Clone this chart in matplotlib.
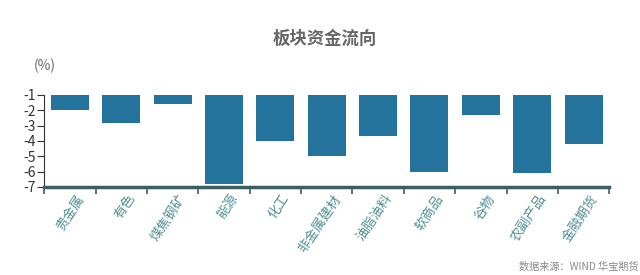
import numpy as np
import matplotlib
matplotlib.use('Agg')
import matplotlib.pyplot as plt

plt.rcParams['font.family'] = ['Noto Sans CJK SC', 'DejaVu Sans']

sectors = ['贵金属', '有色', '煤焦钢矿', '能源', '化工', '非金属建材',
           '油脂油料', '软商品', '谷物', '农副产品', '金融期货']
flow = [-2.0, -2.8, -1.6, -6.8, -4.0, -5.0, -3.7, -6.0, -2.3, -6.1, -4.2]
yticks = [-1, -2, -3, -4, -5, -6, -7]

fig = plt.figure(figsize=(6.4, 2.75), dpi=100)
ax = fig.add_axes([0.069, 0.32, 0.883, 0.335])

x = np.arange(len(sectors))
heights = [v - (-1) for v in flow]
ax.bar(x, heights, bottom=-1, width=0.74, color='#23739c')

ax.set_xlim(-0.5, len(sectors) - 0.5)
ax.set_ylim(-7, -1)
ax.set_yticks(yticks)
ax.set_yticklabels([str(t) for t in yticks], fontsize=10, color='#333333')
ax.tick_params(axis='y', length=5, width=0.8, pad=1, color='#333333')

# ticks at category boundaries on the x axis
ax.set_xticks(np.arange(len(sectors) + 1) - 0.5)
ax.set_xticklabels([])
ax.tick_params(axis='x', length=5, width=1.2, color='#3b5d63')
for xi, name in zip(x, sectors):
    ax.text(xi + 0.12, -7.35, name, rotation=56, ha='right', va='top',
            rotation_mode='anchor', fontsize=9.5, color='#4f8f92')

for s in ['top', 'right']:
    ax.spines[s].set_visible(False)
ax.spines['left'].set_color('#333333')
ax.spines['left'].set_linewidth(0.8)
ax.spines['bottom'].set_color('#3b5d63')
ax.spines['bottom'].set_linewidth(2.5)

fig.text(0.508, 0.86, '板块资金流向', ha='center', va='center', fontsize=12.5,
         fontweight='bold', color='#666666')
fig.text(0.053, 0.76, '(%)', ha='left', va='center', fontsize=10, color='#666666')
fig.text(0.997, 0.01, '数据来源：WIND 华宝期货', ha='right', va='bottom',
         fontsize=7.3, color='#888888')

plt.savefig('out.png', dpi=100)
plt.close('all')
